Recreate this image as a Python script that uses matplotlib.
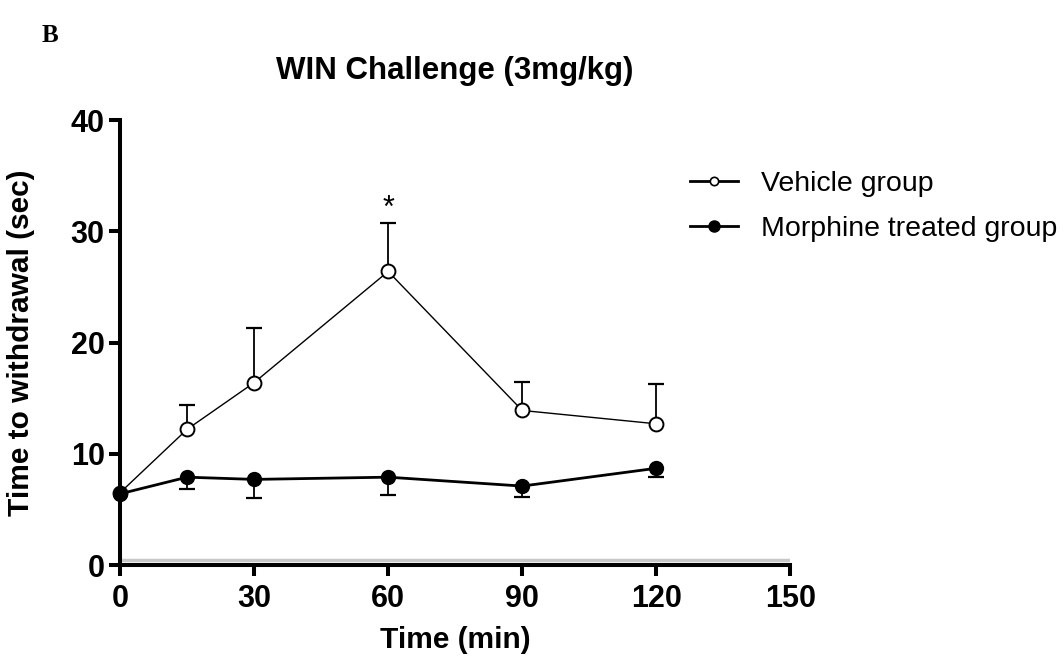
import matplotlib
matplotlib.use("Agg")
import matplotlib.pyplot as plt
from matplotlib.lines import Line2D

time_min = [0, 15, 30, 60, 90, 120]
vehicle_mean = [6.5, 12.2, 16.4, 26.4, 13.9, 12.7]
vehicle_sem = [0.0, 2.2, 4.9, 4.4, 2.6, 3.6]
morphine_mean = [6.4, 7.9, 7.7, 7.9, 7.1, 8.7]
morphine_sem = [0.0, 1.1, 1.7, 1.6, 1.0, 0.8]
x_ticks = [0, 30, 60, 90, 120, 150]
y_ticks = [0, 10, 20, 30, 40]

plt.rcParams['font.family'] = ['Liberation Sans', 'DejaVu Sans']

fig = plt.figure(figsize=(10.64, 6.57), dpi=100)
ax = fig.add_axes([0.1128, 0.14, 0.63, 0.677])

# faint grey shadow line just above the x axis
ax.axhline(0.45, color='#c8c8c8', lw=2.5, zorder=1)

# vehicle: upward error bars (stem + top cap)
v_pts = [(t, m, s) for t, m, s in zip(time_min, vehicle_mean, vehicle_sem) if s > 0]
ax.vlines([p[0] for p in v_pts], [p[1] for p in v_pts], [p[1] + p[2] for p in v_pts],
          color='black', lw=1.3, zorder=2)
ax.plot([p[0] for p in v_pts], [p[1] + p[2] for p in v_pts], ls='none', marker='_',
        ms=11, mew=1.6, color='black', zorder=2)

# morphine: downward error bars (stem + bottom cap)
m_pts = [(t, m, s) for t, m, s in zip(time_min, morphine_mean, morphine_sem) if s > 0]
ax.vlines([p[0] for p in m_pts], [p[1] - p[2] for p in m_pts], [p[1] for p in m_pts],
          color='black', lw=1.3, zorder=2)
ax.plot([p[0] for p in m_pts], [p[1] - p[2] for p in m_pts], ls='none', marker='_',
        ms=11, mew=1.6, color='black', zorder=2)

ax.plot(time_min, vehicle_mean, color='black', lw=1.0, marker='o', ms=10,
        mfc='white', mec='black', mew=1.4, zorder=3, clip_on=False)
ax.plot(time_min, morphine_mean, color='black', lw=2.0, marker='o', ms=10,
        mfc='black', mec='black', zorder=4, clip_on=False)

ax.text(60, 32.0, '*', ha='center', va='center', fontsize=22)

ax.set_xlim(0, 150)
ax.set_ylim(0, 40)
ax.set_xticks(x_ticks)
ax.set_yticks(y_ticks)
for s in ['top', 'right']:
    ax.spines[s].set_visible(False)
for s in ['left', 'bottom']:
    ax.spines[s].set_linewidth(2.9)
    ax.spines[s].set_zorder(5)
ax.tick_params(axis='both', width=2.9, length=8, direction='out')
ax.tick_params(axis='x', pad=6)
ax.tick_params(axis='y', pad=3)
for lbl in ax.get_xticklabels() + ax.get_yticklabels():
    lbl.set_fontsize(22)
    lbl.set_fontweight('bold')

ax.set_xlabel('Time (min)', fontsize=21.5, fontweight='bold')
ax.xaxis.set_label_coords(0.5, -0.137)
ax.set_ylabel('Time to withdrawal (sec)', fontsize=21.5, fontweight='bold')
ax.yaxis.set_label_coords(-0.127, 0.5)
ax.set_title('WIN Challenge (3mg/kg)', fontsize=22.5, fontweight='bold', pad=30)

fig.text(42 / 1064, 1 - 36 / 657, 'B', fontsize=18, fontweight='bold', va='center',
         ha='left', family=['Liberation Serif', 'DejaVu Serif'])

handles = [
    Line2D([0], [0], color='black', lw=2.0, marker='o', ms=6, mfc='white', mec='black', mew=1.2),
    Line2D([0], [0], color='black', lw=2.0, marker='o', ms=8, mfc='black', mec='black'),
]
fig.legend(handles, ['Vehicle group', 'Morphine treated group'],
           loc='upper left', bbox_to_anchor=(690 / 1064, 1 - 171 / 657), frameon=False,
           fontsize=20.5, handlelength=1.7, labelspacing=0.66, handletextpad=0.8,
           borderpad=0, borderaxespad=0)

fig.savefig('out.png', dpi=100)
